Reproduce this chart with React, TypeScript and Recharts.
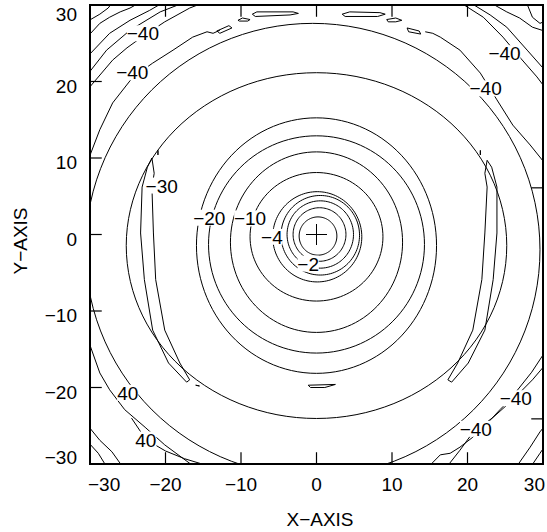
import React from 'react';
import { ScatterChart, Scatter, XAxis, YAxis, ReferenceArea } from 'recharts';

const axisTicks = [-30, -20, -10, 0, 10, 20, 30];
const innerTicks = [-20, -10, 0, 10, 20];
const rightTicks = [6.1, -24.1];
// tick marks sit just inside the frame
const EDGE = 29.9;

// closed rings: centre x, centre y, half-width, half-height (data units)
const ringCx = [0.2, 0.4, 0.5, 0.5, 0.1, 0, 0, 0, 0, 0, -0.5];
const ringCy = [-0.2, 0, 0, -0.1, -0.3, -0.3, -1.0, -1.3, -1.45, -1.45, -2.0];
const ringRx = [2.5, 3.5, 4.4, 5.2, 5.9, 8.8, 11.4, 14.3, 15.9, 25.2, 30.1];
const ringRy = [2.5, 3.5, 4.4, 5.2, 5.9, 8.4, 11.8, 14.2, 16.7, 22.6, 29.6];

// open / irregular contour pieces
const outerLines: [number, number][][] = [
  // top-left
  [[-12.8, 26.7], [-13.7, 26.3], [-14.5, 26.5], [-16.4, 25.8], [-19.0, 24.1], [-21.7, 22.4], [-24.3, 20.6], [-27.0, 17.2], [-28.7, 13.7], [-30.1, 10.1], [-31, 6]],
  [[-30.1, 28.0], [-28.7, 28.8], [-27.6, 29.6], [-27.2, 30.1]],
  [[-30.1, 26.1], [-28.7, 27.6], [-27.4, 28.4], [-26.0, 29.1], [-24.7, 29.6], [-23.8, 30.1]],
  [[-30.1, 23.5], [-27.4, 26.3], [-24.7, 28.0], [-22.1, 29.3], [-20.7, 30.1]],
  [[-30.1, 21.2], [-27.8, 24.1], [-24.7, 26.7], [-20.7, 29.1], [-18.1, 30.1]],
  [[-30.1, 19.2], [-27.0, 22.8], [-25.1, 24.4], [-23.0, 25.9], [-20.1, 27.8], [-16.8, 29.6], [-15.5, 30.1]],
  // top-right
  [[14.4, 26.5], [15.4, 26.3], [16.4, 25.8], [19.0, 24.1], [21.7, 21.1], [23.9, 17.6], [26.0, 14.3], [28.3, 11.7], [30.5, 9.0]],
  [[19.4, 30.1], [22.1, 28.4], [24.7, 25.8], [26.9, 23.2], [29.2, 20.6], [30.5, 18.9]],
  [[20.7, 30.1], [23.0, 28.7], [25.2, 27.1], [27.9, 24.1], [30.5, 21.2]],
  [[23.4, 30.1], [25.2, 29.1], [26.9, 28.3], [28.6, 27.1], [30.5, 26.5]],
  [[27.9, 30.1], [28.6, 28.4], [29.6, 27.6], [30.5, 28.0]],
  // bottom-left
  [[-31, -12], [-30.1, -14.2], [-28.7, -18.1], [-27.4, -20.3], [-25.4, -22.9], [-22.7, -25.2], [-20.1, -27.5], [-16.4, -30.2]],
  [[-24.5, -24.0], [-22.6, -26.8], [-20.0, -28.3], [-17.5, -29.3], [-14.5, -30.2]],
  [[-30.1, -25.2], [-28.7, -26.9], [-27.1, -28.4], [-25.8, -30.2]],
  [[-30.1, -27.3], [-28.9, -28.6], [-27.9, -30.2]],
  // bottom-right
  [[15.0, -30.2], [16.4, -28.8], [17.7, -28.6], [19.0, -27.8], [20.7, -26.5], [22.6, -24.7], [24.3, -22.9], [25.6, -21.6], [28.5, -18.0], [30.5, -15.0]],
  [[17.4, -30.2], [19.0, -28.2], [20.7, -25.9], [23.4, -23.9], [26.0, -21.6], [28.6, -19.0], [30.5, -16.8]],
  [[26.6, -30.2], [28.3, -27.8], [29.6, -25.8], [30.5, -24.7]],
  [[28.5, -30.2], [29.6, -28.6], [30.5, -27.3]],
];

const islands: [number, number][][] = [
  [[-8.5, 28.8], [-7.9, 29.1], [-3.1, 29.1], [-2.4, 28.9], [-3.5, 28.7], [-8.1, 28.5], [-8.5, 28.8]],
  [[-10.4, 28.0], [-9.8, 28.3], [-8.8, 28.1], [-9.1, 27.9], [-10.2, 27.9], [-10.4, 28.0]],
  [[3.4, 28.8], [4.4, 29.1], [8.4, 29.0], [9.1, 28.8], [8.1, 28.5], [3.8, 28.5], [3.4, 28.8]],
  [[9.3, 28.1], [10.5, 28.3], [11.3, 28.0], [10.5, 27.8], [9.5, 27.8], [9.3, 28.1]],
  [[-13.2, 26.6], [-11.6, 27.3], [-11.2, 27.0], [-12.8, 26.3], [-13.2, 26.6]],
  [[12.0, 27.0], [13.6, 26.6], [13.8, 26.2], [12.2, 26.5], [12.0, 27.0]],
  [[-1.1, -19.7], [2.5, -19.6], [1.1, -20.0], [-0.8, -20.0], [-1.1, -19.7]],
  [[-16.0, -19.7], [-15.5, -19.8], [-16.0, -19.7]],
  [[-21.0, 11.0], [-21.0, 10.4], [-21.0, 11.0]],
  [[21.7, 11.0], [21.7, 10.4], [21.7, 11.0]],
  // long thin loops either side
  [[22.6, 9.7], [23.2, 8.8], [23.9, 6.2], [23.9, 0.2], [23.4, -5.9], [22.3, -12.5], [20.1, -16.8], [17.9, -19.3], [17.4, -19.0], [18.7, -16.8], [20.7, -12.5], [21.9, -5.9], [22.3, 0.2], [22.6, 6.2], [22.3, 8.0], [22.6, 9.7]],
  [[-21.8, 10.0], [-22.4, 8.8], [-23.1, 6.2], [-23.3, 0.2], [-22.8, -5.9], [-21.7, -12.5], [-19.6, -16.8], [-17.2, -19.3], [-16.8, -19.0], [-18.1, -16.8], [-20.1, -12.5], [-21.3, -5.9], [-21.6, 0.2], [-21.8, 6.2], [-21.5, 8.0], [-21.8, 10.0]],
];

const labelText = ['−40', '−40', '−30', '−20', '−10', '−4', '−2', '−40', '−40', '40', '40', '−40', '−40'];
const labelX = [-23.0, -24.4, -20.5, -14.2, -8.8, -5.9, -1.1, 24.9, 22.4, -25.0, -22.6, 26.4, 21.1];
const labelY = [26.3, 21.2, 6.4, 2.2, 2.1, -0.3, -3.8, 23.7, 19.1, -20.7, -26.8, -21.4, -25.4];

const FONT = "'Liberation Sans', Arial, Helvetica, sans-serif";
const fmt = (v: number) => (v < 0 ? `−${Math.abs(v)}` : `${v}`);

const ringPoints = (i: number) => {
  const pts = [];
  for (let k = 0; k <= 120; k++) {
    const a = (k / 120) * Math.PI * 2;
    pts.push({ x: ringCx[i] + ringRx[i] * Math.cos(a), y: ringCy[i] + ringRy[i] * Math.sin(a) });
  }
  return pts;
};

const toPts = (line: [number, number][]) => line.map(([x, y]) => ({ x, y }));
const labelData = labelText.map((t, i) => ({ x: labelX[i], y: labelY[i], t }));

const tickMarks = [
  ...innerTicks.map((v) => ({ x: v, y: -EDGE, side: 'b' })),
  ...innerTicks.map((v) => ({ x: v, y: EDGE, side: 't' })),
  ...innerTicks.map((v) => ({ x: -EDGE, y: v, side: 'l' })),
  ...rightTicks.map((v) => ({ x: EDGE, y: v, side: 'r' })),
];

const noDot = () => <g />;

const TickMark = (props: any) => {
  const { cx, cy, payload } = props;
  const s = payload.side;
  if (s === 'b') return <rect x={cx - 0.6} y={cy - 11} width={1.2} height={12} fill="#000" />;
  if (s === 't') return <rect x={cx - 0.6} y={cy - 1} width={1.2} height={12} fill="#000" />;
  if (s === 'l') return <rect x={cx - 1} y={cy - 0.6} width={12} height={1.2} fill="#000" />;
  return <rect x={cx - 11} y={cy - 0.6} width={12} height={1.2} fill="#000" />;
};

const BottomTick = (props: any) => {
  const { x, y, payload } = props;
  const v = payload.value;
  let anchor: any = 'middle';
  let tx = x;
  if (v === -30) { anchor = 'start'; tx = x - 2; }
  if (v === 30) { anchor = 'end'; tx = x + 2; }
  return (
    <text x={tx} y={y + 27} textAnchor={anchor} fontSize={19} fontFamily={FONT} fill="#000">{fmt(v)}</text>
  );
};

const LeftTick = (props: any) => {
  const { x, y, payload } = props;
  const ty = Math.min(Math.max(y + 11, 21), 464);
  return (
    <text x={x - 13} y={ty} textAnchor="end" fontSize={19} fontFamily={FONT} fill="#000">{fmt(payload.value)}</text>
  );
};

const Cross = (props: any) => {
  const { cx, cy } = props;
  return (
    <g stroke="#000" strokeWidth={1}>
      <line x1={cx - 10.5} x2={cx + 10.5} y1={cy} y2={cy} />
      <line x1={cx} x2={cx} y1={cy - 10.5} y2={cy + 10.5} />
    </g>
  );
};

const ContourLabel = (props: any) => {
  const { cx, cy, payload } = props;
  const w = payload.t.length * 10.6;
  return (
    <g>
      <rect x={cx - w / 2} y={cy - 8} width={w} height={16} fill="#fff" />
      <text x={cx} y={cy + 7} textAnchor="middle" fontSize={19} fontFamily={FONT} fill="#000">{payload.t}</text>
    </g>
  );
};

const lineStyle = { stroke: '#000', strokeWidth: 1 };

export default function App() {
  return (
    <div style={{ position: 'absolute', left: 0, top: 0, background: '#fff' }}>
      <ScatterChart width={547} height={532} margin={{ top: 5, right: 4, bottom: 0, left: 0 }}>
        <XAxis
          type="number"
          dataKey="x"
          domain={[-30, 30]}
          ticks={axisTicks}
          allowDataOverflow
          height={68}
          tickSize={0}
          tickMargin={0}
          tickLine={false}
          axisLine={{ stroke: '#000', strokeWidth: 2 }}
          tick={BottomTick}
          interval={0}
          label={{
            content: () => (
              <text x={320} y={526} textAnchor="middle" fontSize={19} fontFamily={FONT} fill="#000">X−AXIS</text>
            ),
          }}
        />
        <YAxis
          type="number"
          dataKey="y"
          domain={[-30, 30]}
          ticks={axisTicks}
          allowDataOverflow
          width={90}
          tickSize={0}
          tickMargin={0}
          tickLine={false}
          axisLine={{ stroke: '#000', strokeWidth: 2 }}
          tick={LeftTick}
          interval={0}
          label={{
            content: () => (
              <text x={27} y={241} textAnchor="middle" fontSize={19} fontFamily={FONT} fill="#000" transform="rotate(-90 27 241)">Y−AXIS</text>
            ),
          }}
        />
        <ReferenceArea x1={-30} x2={30} y1={-30} y2={30} fill="none" fillOpacity={0} stroke="#000" strokeWidth={2} />
        {ringRx.map((_, i) => (
          <Scatter key={`ring${i}`} data={ringPoints(i)} line={lineStyle} shape={noDot} isAnimationActive={false} />
        ))}
        {outerLines.map((l, i) => (
          <Scatter key={`outer${i}`} data={toPts(l)} line={lineStyle} shape={noDot} isAnimationActive={false} />
        ))}
        {islands.map((l, i) => (
          <Scatter key={`isl${i}`} data={toPts(l)} line={lineStyle} shape={noDot} isAnimationActive={false} />
        ))}
        <Scatter data={tickMarks} shape={TickMark} isAnimationActive={false} />
        <Scatter data={[{ x: 0, y: 0 }]} shape={Cross} isAnimationActive={false} />
        <Scatter data={labelData} shape={ContourLabel} isAnimationActive={false} />
      </ScatterChart>
    </div>
  );
}
